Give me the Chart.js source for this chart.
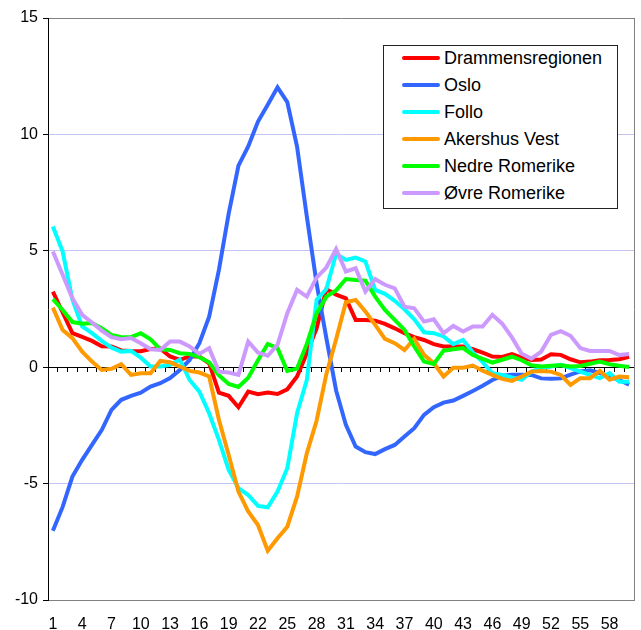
<!DOCTYPE html>
<html>
<head>
<meta charset="utf-8">
<script src="https://cdn.jsdelivr.net/npm/chart.js@4.4.1/dist/chart.umd.min.js"></script>
<style>
  body { margin: 0; background: #fff; }
  #wrap { position: relative; width: 641px; height: 630px; }
  #legend {
    position: absolute; left: 383px; top: 45px; width: 233px; height: 162px;
    border: 1px solid #222; background: #fff;
    font-family: 'Liberation Sans', Arial, sans-serif; font-size: 18px; color: #000;
  }
  .row { position: absolute; left: 0; height: 20px; line-height: 20px; }
  .row .swatch { position: absolute; left: 18px; top: 8px; width: 38px; height: 4px; border-radius: 2px; }
  .row .txt { position: absolute; left: 60px; top: 0; white-space: nowrap; }
</style>
</head>
<body>
<div id="wrap">
  <canvas id="chart" width="641" height="630"></canvas>
  <div id="legend"></div>
</div>

<script>
var categories = ['1','2','3','4','5','6','7','8','9','10','11','12','13','14','15','16','17','18','19','20',
  '21','22','23','24','25','26','27','28','29','30','31','32','33','34','35','36','37','38','39','40',
  '41','42','43','44','45','46','47','48','49','50','51','52','53','54','55','56','57','58','59','60'];

var drammen = [3.25, 2.35, 1.46, 1.3, 1.13, 0.9, 0.89, 0.72, 0.7, 0.69, 0.78, 0.8, 0.46, 0.31, 0.46, 0.46, 0.17, -1.09, -1.23, -1.72,
  -1.05, -1.16, -1.09, -1.15, -0.95, -0.4, 0.6, 1.67, 3.35, 3.12, 2.96, 2.03, 2.03, 2.0, 1.86, 1.67, 1.46, 1.29, 1.17, 0.99,
  0.89, 0.89, 0.89, 0.77, 0.63, 0.46, 0.44, 0.56, 0.41, 0.31, 0.33, 0.56, 0.53, 0.34, 0.21, 0.24, 0.3, 0.31, 0.34, 0.45];

var oslo = [-7.03, -6.0, -4.7, -3.98, -3.34, -2.7, -1.83, -1.4, -1.23, -1.09, -0.83, -0.69, -0.47, -0.12, 0.31, 1.03, 2.17, 4.18, 6.6, 8.66,
  9.48, 10.55, 11.27, 12.02, 11.39, 9.48, 6.47, 3.6, 1.25, -1.0, -2.48, -3.41, -3.65, -3.73, -3.52, -3.34, -2.98, -2.62, -2.05, -1.72,
  -1.52, -1.43, -1.23, -1.02, -0.8, -0.55, -0.37, -0.32, -0.32, -0.33, -0.48, -0.5, -0.48, -0.32, -0.18, -0.13, -0.25, -0.4, -0.55, -0.75];

var follo = [6.04, 4.97, 2.9, 1.75, 1.46, 1.13, 0.84, 0.67, 0.7, 0.41, 0.03, 0.03, 0.1, 0.32, -0.55, -1.05, -1.98, -3.12, -4.41, -5.2,
  -5.49, -5.96, -6.02, -5.34, -4.34, -1.98, -0.55, 2.89, 3.36, 4.87, 4.61, 4.71, 4.54, 3.32, 3.15, 2.85, 2.49, 2.06, 1.5, 1.46,
  1.32, 0.99, 1.17, 0.64, 0.22, -0.26, -0.33, -0.44, -0.54, -0.19, -0.04, 0.03, 0.1, -0.04, -0.19, -0.33, -0.47, -0.26, -0.62, -0.62];

var akershusVest = [2.56, 1.6, 1.25, 0.67, 0.24, -0.12, -0.07, 0.13, -0.33, -0.26, -0.26, 0.27, 0.21, 0.03, -0.16, -0.23, -0.4, -2.26, -3.77, -5.34,
  -6.2, -6.78, -7.88, -7.35, -6.85, -5.56, -3.7, -2.3, -0.3, 1.2, 2.79, 2.89, 2.39, 1.82, 1.22, 1.03, 0.74, 1.22, 0.53, 0.17,
  -0.4, -0.02, -0.02, 0.07, -0.15, -0.33, -0.5, -0.59, -0.4, -0.19, -0.16, -0.19, -0.33, -0.76, -0.47, -0.47, -0.16, -0.54, -0.4, -0.43];

var nedreRomerike = [2.92, 2.46, 1.94, 1.87, 1.9, 1.67, 1.39, 1.29, 1.29, 1.46, 1.2, 0.77, 0.74, 0.6, 0.57, 0.43, 0.21, -0.35, -0.72, -0.85,
  -0.45, 0.3, 1.0, 0.82, -0.16, -0.06, 1.0, 2.3, 3.03, 3.3, 3.79, 3.75, 3.72, 3.03, 2.46, 2.03, 1.6, 0.89, 0.24, 0.14,
  0.71, 0.77, 0.82, 0.53, 0.36, 0.2, 0.32, 0.45, 0.3, 0.08, 0.03, 0.06, 0.08, 0.03, 0.05, 0.15, 0.24, 0.13, 0.06, 0.01];

var ovreRomerike = [4.97, 3.97, 2.96, 2.25, 1.92, 1.57, 1.29, 1.2, 1.25, 1.03, 0.77, 0.74, 1.1, 1.1, 0.89, 0.57, 0.82, -0.19, -0.23, -0.33,
  1.1, 0.63, 0.49, 0.96, 2.32, 3.32, 3.03, 3.85, 4.28, 5.07, 4.11, 4.25, 3.25, 3.78, 3.54, 3.39, 2.6, 2.53, 1.96, 2.06,
  1.46, 1.77, 1.53, 1.75, 1.75, 2.25, 1.87, 1.28, 0.58, 0.37, 0.67, 1.39, 1.55, 1.35, 0.82, 0.7, 0.7, 0.7, 0.52, 0.57];

var seriesNames = ['Drammensregionen', 'Oslo', 'Follo', 'Akershus Vest', 'Nedre Romerike', '\u00d8vre Romerike'];
var seriesData = [drammen, oslo, follo, akershusVest, nedreRomerike, ovreRomerike];
var seriesColors = ['#ff0000', '#3366ff', '#00ffff', '#ff9900', '#00ff00', '#cc99ff'];

var FONT = "'Liberation Sans', Arial, sans-serif";

var datasets = seriesNames.map(function(name, i) {
  return {
    label: name,
    data: seriesData[i],
    borderColor: seriesColors[i],
    backgroundColor: seriesColors[i],
    borderWidth: 4,
    pointRadius: 0,
    tension: 0,
    fill: false,
    xAxisID: 'x',
    yAxisID: 'y',
    order: seriesNames.length - i   // later series on top, like the original
  };
});

// legend box
var legend = document.getElementById('legend');
datasets.forEach(function(ds, i) {
  var row = document.createElement('div');
  row.className = 'row';
  row.style.top = (1.7 + i * 27) + 'px';
  row.innerHTML = '<span class="swatch" style="background:' + ds.borderColor + '"></span><span class="txt"></span>';
  row.querySelector('.txt').textContent = ds.label;
  legend.appendChild(row);
});

function gridColor(ctx) {
  var v = ctx.tick.value;
  if (v === 15 || v === -10) return '#808080';
  if (v === 0) return 'rgba(0,0,0,0)';
  return '#c4c4f4';
}

var ctx = document.getElementById('chart').getContext('2d');
new Chart(ctx, {
  type: 'line',
  data: { labels: categories, datasets: datasets },
  options: {
    responsive: false,
    devicePixelRatio: 1,
    animation: false,
    layout: { padding: { top: 18, right: 7, bottom: 0, left: 0 } },
    plugins: { legend: { display: false }, tooltip: { enabled: false } },
    scales: {
      x: {
        type: 'category',
        position: 'bottom',
        offset: true,
        grid: { display: false, offset: true },
        border: { display: true, color: '#808080', width: 1 },
        ticks: {
          autoSkip: false, maxRotation: 0, minRotation: 0, padding: 7,
          color: '#000', font: { family: FONT, size: 16 },
          callback: function(val, i) { return i % 3 === 0 ? categories[i] : ''; }
        },
        afterFit: function(s) { s.height = 30; }
      },
      x2: {
        type: 'category',
        axis: 'x',
        position: { y: 0 },
        offset: true,
        grid: { display: true, offset: true, drawOnChartArea: false, drawTicks: true, tickLength: 4, tickColor: '#000' },
        border: { display: true, color: '#000', width: 1 },
        ticks: { display: false }
      },
      y: {
        type: 'linear',
        position: 'left',
        min: -10, max: 15,
        grid: { color: gridColor, lineWidth: 1, drawTicks: true, tickLength: 5, tickColor: '#000' },
        border: { display: true, color: '#000', width: 1 },
        ticks: { stepSize: 5, padding: 5, color: '#000', font: { family: FONT, size: 16 } },
        afterFit: function(s) { s.width = 48; }
      },
      y2: {
        type: 'linear',
        position: 'right',
        grid: { drawOnChartArea: false, drawTicks: false },
        border: { display: true, color: '#808080', width: 1 },
        ticks: { display: false },
        afterFit: function(s) { s.width = 0; }
      }
    }
  }
});
</script>
</body>
</html>
